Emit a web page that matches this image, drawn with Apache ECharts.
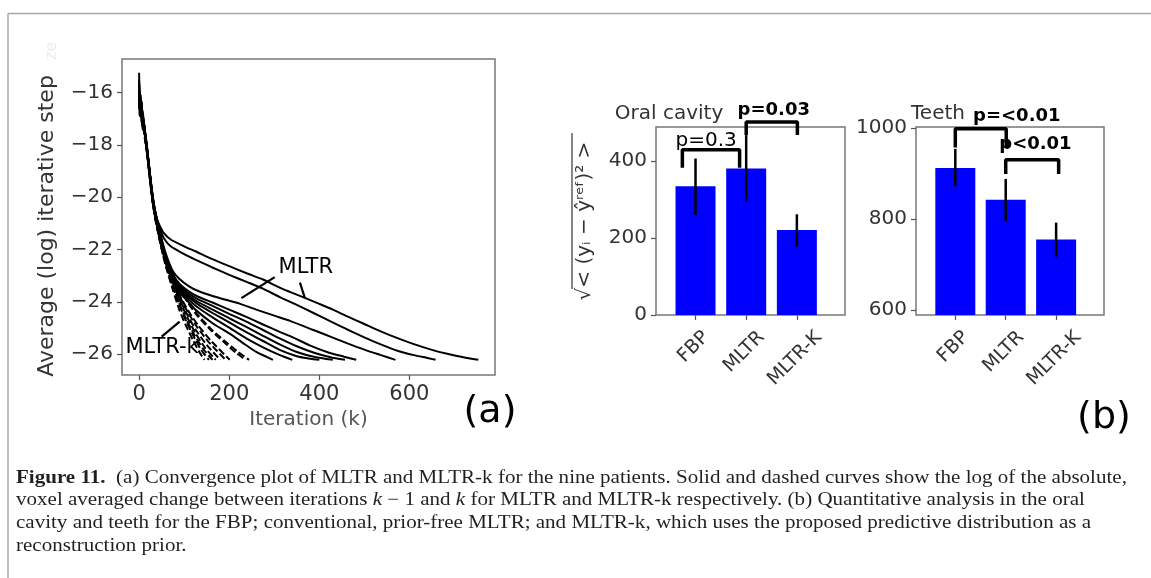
<!DOCTYPE html>
<html>
<head>
<meta charset="utf-8">
<script src="https://cdn.jsdelivr.net/npm/echarts@6/dist/echarts.min.js"></script>
<style>
  html, body { margin: 0; padding: 0; background: #fff; }
  #main { width: 1151px; height: 578px; }
</style>
</head>
<body>
<div id="main"></div>
<script>
// (a) convergence curves: [iteration, log step]
const mltr1 = [[0,-15.25],[1,-16.9],[3,-16.2],[5,-17.0],[8,-16.7],[11,-17.3],[15,-17.7],[20,-18.5],[26,-19.4],[33,-20.3],[40,-20.85],[46,-21.1],[55,-21.38],[70,-21.62],[100,-21.88],[126,-22.08],[160,-22.35],[200,-22.64],[240,-22.92],[275,-23.15],[312,-23.46],[340,-23.66],[368,-23.85],[400,-24.08],[430,-24.3],[461,-24.55],[500,-24.85],[535,-25.12],[575,-25.4],[610,-25.62],[650,-25.84],[684,-25.99],[720,-26.12],[753,-26.22]];
const mltr2 = [[0,-15.7],[2,-16.5],[4,-16.1],[6,-17.1],[9,-16.9],[12,-17.5],[16,-17.9],[21,-18.7],[27,-19.6],[34,-20.4],[41,-20.95],[48,-21.3],[56,-21.6],[70,-21.88],[100,-22.18],[126,-22.4],[160,-22.67],[200,-22.97],[240,-23.25],[275,-23.5],[312,-23.82],[350,-24.12],[387,-24.43],[425,-24.75],[461,-25.05],[500,-25.36],[535,-25.62],[575,-25.88],[610,-26.04],[640,-26.15],[658,-26.22]];
const mltr3 = [[0,-15.9],[2,-16.6],[4,-16.3],[7,-17.2],[10,-17.0],[13,-17.6],[17,-18.0],[22,-18.8],[28,-19.7],[35,-20.5],[42,-21.05],[50,-21.6],[60,-22.2],[74,-22.8],[89,-23.12],[110,-23.4],[130,-23.58],[163,-23.78],[200,-23.96],[223,-24.07],[260,-24.3],[300,-24.53],[335,-24.73],[387,-25.08],[430,-25.37],[461,-25.58],[500,-25.83],[535,-26.03],[569,-26.22]];
const mltr4 = [[0,-16.0],[2,-16.8],[5,-16.4],[8,-17.3],[11,-17.2],[14,-17.7],[18,-18.2],[23,-19.0],[29,-19.9],[36,-20.6],[44,-21.2],[52,-21.8],[62,-22.45],[74,-22.92],[89,-23.3],[110,-23.6],[130,-23.8],[163,-24.03],[200,-24.3],[238,-24.58],[275,-24.87],[312,-25.15],[340,-25.35],[380,-25.68],[420,-25.94],[455,-26.1],[482,-26.22]];
const mltr5 = [[0,-16.1],[2,-16.7],[5,-16.5],[8,-17.1],[11,-17.4],[15,-17.9],[19,-18.4],[24,-19.1],[30,-20.0],[37,-20.7],[45,-21.3],[53,-21.9],[63,-22.5],[75,-22.98],[89,-23.36],[110,-23.68],[130,-23.9],[163,-24.16],[200,-24.46],[238,-24.76],[275,-25.08],[312,-25.4],[350,-25.7],[390,-25.96],[425,-26.12],[457,-26.22]];
const mltr6 = [[0,-15.8],[2,-16.9],[4,-16.6],[7,-17.3],[10,-17.3],[14,-17.8],[18,-18.3],[23,-19.1],[29,-20.0],[36,-20.7],[44,-21.3],[52,-21.9],[62,-22.55],[75,-23.02],[89,-23.42],[110,-23.76],[130,-24.0],[163,-24.3],[200,-24.63],[238,-24.96],[275,-25.3],[312,-25.63],[350,-25.92],[390,-26.11],[430,-26.22]];
const mltr7 = [[0,-16.2],[2,-16.8],[5,-16.7],[8,-17.4],[12,-17.5],[16,-18.0],[20,-18.6],[25,-19.3],[31,-20.2],[38,-20.85],[46,-21.4],[54,-22.0],[64,-22.6],[76,-23.05],[90,-23.47],[110,-23.83],[130,-24.09],[163,-24.43],[200,-24.79],[238,-25.16],[275,-25.5],[312,-25.84],[350,-26.08],[380,-26.18],[400,-26.22]];
const mltr8 = [[0,-16.0],[2,-16.6],[4,-16.4],[7,-17.2],[10,-17.1],[14,-17.7],[18,-18.2],[23,-19.0],[29,-19.95],[36,-20.7],[44,-21.35],[52,-21.95],[62,-22.6],[75,-23.08],[89,-23.52],[110,-23.92],[126,-24.16],[163,-24.6],[201,-25.0],[238,-25.4],[275,-25.74],[310,-26.02],[340,-26.22]];
const mltr9 = [[0,-15.5],[1,-16.6],[3,-16.2],[6,-17.0],[9,-17.0],[13,-17.6],[17,-18.2],[22,-18.95],[28,-19.9],[35,-20.7],[43,-21.35],[51,-21.95],[61,-22.6],[74,-23.12],[89,-23.62],[110,-24.02],[126,-24.32],[163,-24.82],[201,-25.22],[230,-25.57],[260,-25.92],[297,-26.22]];

const mltrk1 = [[0,-15.9],[2,-16.7],[4,-16.3],[7,-17.1],[10,-17.3],[14,-17.7],[18,-18.3],[23,-19.1],[29,-20.0],[36,-20.8],[44,-21.5],[52,-22.15],[62,-22.8],[75,-23.55],[90,-24.35],[105,-24.95],[120,-25.48],[133,-25.9],[145,-26.22]];
const mltrk2 = [[0,-16.1],[2,-16.5],[5,-16.4],[8,-17.0],[11,-17.4],[15,-17.9],[19,-18.4],[24,-19.2],[30,-20.1],[37,-20.85],[45,-21.5],[53,-22.15],[63,-22.75],[76,-23.45],[91,-24.2],[106,-24.8],[121,-25.32],[138,-25.85],[155,-26.22]];
const mltrk3 = [[0,-15.7],[2,-16.8],[4,-16.5],[6,-17.2],[9,-17.2],[13,-17.8],[17,-18.2],[22,-19.0],[28,-19.95],[35,-20.75],[43,-21.45],[51,-22.05],[61,-22.7],[74,-23.35],[89,-24.05],[105,-24.68],[122,-25.25],[142,-25.8],[163,-26.22]];
const mltrk4 = [[0,-16.3],[2,-16.9],[5,-16.6],[8,-17.3],[11,-17.3],[15,-17.8],[19,-18.4],[24,-19.2],[30,-20.1],[37,-20.85],[45,-21.5],[53,-22.1],[63,-22.7],[76,-23.3],[91,-23.98],[107,-24.6],[125,-25.2],[146,-25.75],[170,-26.22]];
const mltrk5 = [[0,-16.0],[2,-16.4],[4,-16.3],[7,-17.0],[10,-17.2],[14,-17.8],[18,-18.3],[23,-19.1],[29,-20.0],[36,-20.8],[44,-21.45],[52,-22.05],[62,-22.65],[75,-23.25],[90,-23.9],[107,-24.5],[126,-25.08],[150,-25.65],[180,-26.22]];
const mltrk6 = [[0,-15.8],[2,-16.6],[5,-16.3],[8,-17.1],[11,-17.2],[15,-17.8],[19,-18.4],[24,-19.2],[30,-20.1],[37,-20.85],[45,-21.45],[53,-22.05],[63,-22.6],[76,-23.2],[91,-23.82],[108,-24.4],[128,-24.95],[155,-25.55],[192,-26.22]];
const mltrk7 = [[0,-16.2],[2,-16.7],[4,-16.5],[7,-17.2],[10,-17.4],[14,-17.9],[18,-18.4],[23,-19.15],[29,-20.05],[36,-20.8],[44,-21.4],[52,-22.0],[62,-22.55],[75,-23.15],[90,-23.75],[108,-24.32],[130,-24.88],[160,-25.5],[201,-26.22]];
const mltrk8 = [[0,-16.0],[2,-16.8],[5,-16.6],[8,-17.2],[11,-17.3],[15,-17.85],[19,-18.35],[24,-19.15],[30,-20.05],[37,-20.8],[45,-21.4],[53,-21.95],[63,-22.45],[76,-23.0],[92,-23.55],[110,-24.08],[130,-24.55],[160,-25.1],[190,-25.57],[215,-25.95],[236,-26.22]];
const mltrk9 = [[0,-15.6],[2,-16.5],[4,-16.3],[7,-17.0],[10,-17.2],[14,-17.7],[18,-18.3],[23,-19.1],[29,-20.0],[36,-20.75],[44,-21.35],[52,-21.9],[62,-22.4],[75,-22.95],[91,-23.5],[110,-24.05],[130,-24.5],[160,-25.05],[190,-25.5],[220,-25.92],[244,-26.22]];

const mltrCurves = [mltr1, mltr2, mltr3, mltr4, mltr5, mltr6, mltr7, mltr8, mltr9];
const mltrkCurves = [mltrk1, mltrk2, mltrk3, mltrk4, mltrk5, mltrk6, mltrk7, mltrk8, mltrk9];

const iterTicks = [0, 200, 400, 600];
const stepTicks = [-26, -24, -22, -20, -18, -16];

// annotation pointers in (a)
const mltrPointerA = [[301, -23.06], [227, -23.86]];
const mltrPointerB = [[357, -23.27], [368, -23.86]];
const mltrkPointer = [[50, -25.33], [90, -24.76]];
const annotText = ['MLTR', 'MLTR-k'];
const annotPos = [[370, -22.71], [51, -25.76]];

// (b) bar panels
const methods = ['FBP', 'MLTR', 'MLTR-K'];
const oralMean = [335, 381, 221];
const oralLow = [260, 294, 177];
const oralHigh = [407, 468, 262];
const teethMean = [912, 842, 755];
const teethLow = [872, 794, 717];
const teethHigh = [954, 888, 792];
const oralTicks = [0, 200, 400];
const teethTicks = [600, 800, 1000];

// significance brackets
const oralBracket1 = [[-0.26, 383], [-0.26, 430], [0.87, 430], [0.87, 383]];
const oralBracket2 = [[1, 468], [1, 502], [2.01, 502], [2.01, 468]];
const teethBracket1 = [[0, 957], [0, 998], [1.01, 998], [1.01, 957]];
const teethBracket2 = [[1, 899], [1, 930], [2.05, 930], [2.05, 899]];
const oralPText = ['p=0.3', 'p=0.03'];
const oralPPos = [[0.21, 454], [1.545, 532]];
const oralPBold = [false, true];
const oralPSize = [20, 18];
const teethPText = ['p=<0.01', 'p<0.01'];
const teethPPos = [[1.22, 1025], [1.59, 964]];
const teethPBold = [true, true];
const teethPSize = [18, 18];

const FONT = 'DejaVu Sans';
const minus = v => String(v).replace('-', '\u2212');

const measureCtx = document.createElement('canvas').getContext('2d');
function textWidth(t, size, weight) {
  measureCtx.font = (weight || 'normal') + ' ' + size + 'px "' + FONT + '"';
  return measureCtx.measureText(t).width;
}

const chart = echarts.init(document.getElementById('main'), null, { renderer: 'canvas' });

function gridBox(left, top, width, height) {
  return { left, top, width, height, show: true, borderColor: '#777', borderWidth: 1.5,
           backgroundColor: 'transparent', outerBoundsMode: 'none', containLabel: false };
}

function valueAxis(gridIndex, min, max, ticks, extra) {
  return Object.assign({
    gridIndex, type: 'value', min, max, scale: true,
    axisLine: { show: false, onZero: false },
    splitLine: { show: false },
    axisTick: { show: true, inside: false, customValues: ticks, length: 5, lineStyle: { color: '#555', width: 1.2 } },
    axisLabel: { customValues: ticks, fontFamily: FONT, fontSize: 20, color: '#333', margin: 9, formatter: v => String(v) }
  }, extra || {});
}

function pointerLine(xi, yi, data, w) {
  return { type: 'line', xAxisIndex: xi, yAxisIndex: yi, data, symbol: 'none', clip: false,
           silent: true, z: 6, lineStyle: { color: '#000', width: w, type: 'solid' } };
}

function textLayer(xi, yi, pos, texts, bolds, sizes) {
  return {
    type: 'custom', xAxisIndex: xi, yAxisIndex: yi, clip: false, silent: true, z: 12,
    data: pos,
    renderItem: (params, api) => {
      const p = api.coord([api.value(0), api.value(1)]);
      const i = params.dataIndex;
      return { type: 'text', x: p[0], y: p[1],
        style: { text: texts[i], fontFamily: FONT, fontSize: sizes[i],
                 fontWeight: bolds && bolds[i] ? 'bold' : 'normal',
                 fill: '#000', align: 'center', verticalAlign: 'middle' } };
    }
  };
}

function categoryLabels(xi, yi, yMin) {
  return {
    type: 'custom', xAxisIndex: xi, yAxisIndex: yi, clip: false, silent: true, z: 12,
    data: methods.map((m, i) => [i, yMin]),
    renderItem: (params, api) => {
      const p = api.coord([api.value(0), api.value(1)]);
      const t = methods[params.dataIndex];
      const w = textWidth(t, 19);
      const half = (w + 24) * Math.SQRT1_2 / 2;
      return { type: 'text', x: p[0] - 2, y: p[1] + 11 + half, rotation: Math.PI / 4,
        style: { text: t, fontFamily: FONT, fontSize: 19, fill: '#333',
                 align: 'center', verticalAlign: 'middle' } };
    }
  };
}

function errorBars(xi, yi, lows, highs) {
  return {
    type: 'custom', xAxisIndex: xi, yAxisIndex: yi, silent: true, z: 8,
    data: lows.map((lo, i) => [i, lo, highs[i]]),
    renderItem: (params, api) => {
      const a = api.coord([api.value(0), api.value(1)]);
      const b = api.coord([api.value(0), api.value(2)]);
      return { type: 'line', shape: { x1: a[0], y1: a[1], x2: b[0], y2: b[1] },
               style: { stroke: '#000', lineWidth: 2.5 } };
    }
  };
}

const series = [];
mltrCurves.forEach(c => series.push({
  type: 'line', xAxisIndex: 0, yAxisIndex: 0, data: c, symbol: 'none', smooth: 0.2,
  silent: true, lineStyle: { color: '#000', width: 2 }
}));
mltrkCurves.forEach(c => series.push({
  type: 'line', xAxisIndex: 0, yAxisIndex: 0, data: c, symbol: 'none', smooth: 0.2,
  silent: true, lineStyle: { color: '#000', width: 2, type: [7, 3] }
}));
series.push(pointerLine(0, 0, mltrPointerA, 2.2));
series.push(pointerLine(0, 0, mltrPointerB, 2.2));
series.push(pointerLine(0, 0, mltrkPointer, 2.2));
series.push(textLayer(0, 0, annotPos, annotText, null, [21, 21]));

// oral cavity
series.push({ type: 'bar', xAxisIndex: 1, yAxisIndex: 1, barWidth: 40, silent: true,
  data: oralMean.map((v, i) => [i, v]), itemStyle: { color: '#0000ff' } });
series.push(errorBars(1, 1, oralLow, oralHigh));
series.push(pointerLine(1, 1, oralBracket1, 3.5));
series.push(pointerLine(1, 1, oralBracket2, 3.5));
series.push(textLayer(1, 1, oralPPos, oralPText, oralPBold, oralPSize));
series.push(categoryLabels(1, 1, 0));

// teeth
series.push({ type: 'bar', xAxisIndex: 2, yAxisIndex: 2, barWidth: 40, silent: true,
  data: teethMean.map((v, i) => [i, v]), itemStyle: { color: '#0000ff' } });
series.push(errorBars(2, 2, teethLow, teethHigh));
series.push(pointerLine(2, 2, teethBracket1, 3.5));
series.push(pointerLine(2, 2, teethBracket2, 3.5));
series.push(textLayer(2, 2, teethPPos, teethPText, teethPBold, teethPSize));
series.push(categoryLabels(2, 2, 589));

// caption
const capFont = 'Liberation Serif';
const capSize = 18;
const cap1 = 'Figure 11.  (a) Convergence plot of MLTR and MLTR-k for the nine patients. Solid and dashed curves show the log of the absolute,';
measureCtx.font = capSize + 'px "' + capFont + '"';
const capScale = 1107 / measureCtx.measureText(cap1).width;
function capLine(y, text) {
  return { type: 'text', x: 16, y, scaleX: capScale, silent: true,
    style: { text, fontFamily: capFont, fontSize: capSize, fill: '#231f20', verticalAlign: 'middle',
      rich: {
        b: { fontFamily: capFont, fontSize: capSize, fontWeight: 'bold', fill: '#231f20' },
        i: { fontFamily: capFont, fontSize: capSize, fontStyle: 'italic', fill: '#231f20' }
      } } };
}

const option = {
  animation: false,
  backgroundColor: '#fff',
  textStyle: { fontFamily: FONT },
  grid: [gridBox(122, 59, 373, 316), gridBox(656, 127, 189, 188), gridBox(916, 127, 188, 188)],
  xAxis: [
    valueAxis(0, -38, 790, iterTicks, {
      axisLabel: { customValues: iterTicks, fontFamily: FONT, fontSize: 21, color: '#333', margin: 9 },
      name: 'Iteration (k)', nameLocation: 'middle', nameGap: 34,
      nameTextStyle: { fontFamily: FONT, fontSize: 20, color: '#555' }
    }),
    valueAxis(1, -0.78, 2.95, [0, 1, 2], { axisLabel: { show: false } }),
    valueAxis(2, -0.78, 2.95, [0, 1, 2], { axisLabel: { show: false } })
  ],
  yAxis: [
    valueAxis(0, -26.8, -14.72, stepTicks, {
      axisLabel: { customValues: stepTicks, fontFamily: FONT, fontSize: 20, color: '#333', margin: 9, formatter: minus },
      name: 'Average (log) iterative step', nameLocation: 'middle', nameRotate: 90, nameGap: 64,
      nameTextStyle: { fontFamily: FONT, fontSize: 22, color: '#333', padding: [0, 18, 0, 0] }
    }),
    valueAxis(1, 0, 489, oralTicks, {
      name: '\u221a< (y\u1d62 \u2212 \u0177\u02b3\u1d49\u1da0)\u00b2 >', nameLocation: 'middle', nameRotate: 90, nameGap: 61,
      nameTextStyle: { fontFamily: FONT, fontSize: 20, color: '#333' }
    }),
    valueAxis(2, 589, 1002, teethTicks)
  ],
  series,
  graphic: [
    { type: 'line', silent: true, shape: { x1: 8, y1: 13.5, x2: 1151, y2: 13.5 }, style: { stroke: '#a8a8a8', lineWidth: 1.5 } },
    { type: 'line', silent: true, shape: { x1: 8, y1: 13.5, x2: 8, y2: 578 }, style: { stroke: '#a8a8a8', lineWidth: 1.5 } },
    { type: 'text', silent: true, x: 52, y: 51, rotation: Math.PI / 2,
      style: { text: 'ze', fontFamily: FONT, fontSize: 16, fill: '#ececec', align: 'center', verticalAlign: 'middle' } },
    { type: 'line', silent: true, shape: { x1: 572, y1: 133, x2: 572, y2: 289 }, style: { stroke: '#333', lineWidth: 1.2 } },
    { type: 'text', silent: true, x: 669, y: 114,
      style: { text: 'Oral cavity', fontFamily: FONT, fontSize: 20, fill: '#333', align: 'center', verticalAlign: 'middle' } },
    { type: 'text', silent: true, x: 938, y: 114,
      style: { text: 'Teeth', fontFamily: FONT, fontSize: 20, fill: '#333', align: 'center', verticalAlign: 'middle' } },
    { type: 'text', silent: true, x: 490, y: 412,
      style: { text: '(a)', fontFamily: FONT, fontSize: 38, fill: '#000', align: 'center', verticalAlign: 'middle' } },
    { type: 'text', silent: true, x: 1104, y: 418,
      style: { text: '(b)', fontFamily: FONT, fontSize: 38, fill: '#000', align: 'center', verticalAlign: 'middle' } },
    capLine(478, '{b|Figure 11.}  (a) Convergence plot of MLTR and MLTR-k for the nine patients. Solid and dashed curves show the log of the absolute,'),
    capLine(500.7, 'voxel averaged change between iterations {i|k} \u2212 1 and {i|k} for MLTR and MLTR-k respectively. (b) Quantitative analysis in the oral'),
    capLine(523.4, 'cavity and teeth for the FBP; conventional, prior-free MLTR; and MLTR-k, which uses the proposed predictive distribution as a'),
    capLine(546, 'reconstruction prior.')
  ]
};

chart.setOption(option);
</script>
</body>
</html>
